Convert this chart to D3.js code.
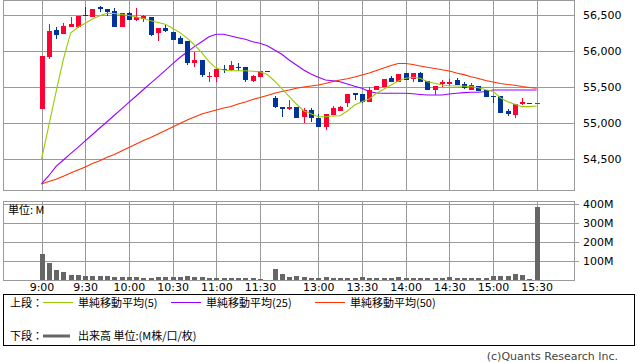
<!DOCTYPE html>
<html><head><meta charset="utf-8">
<script src="https://cdn.jsdelivr.net/npm/d3@7"></script>
<style>
body{margin:0;background:#fff;}
svg{display:block;font-family:"DejaVu Sans","Noto Sans CJK JP",sans-serif;}
</style>
</head><body>
<svg id="chart" width="638" height="362"></svg>
<script>
// ---- data ----
const tickIndex = [0,6,12,18,24,30,38,44,50,56,62,68];
const tickLabels = ["9:00","9:30","10:00","10:30","11:00","11:30","13:00","13:30","14:00","14:30","15:00","15:30"];
const priceTicks = [54500,55000,55500,56000,56500];
const volumeTicks = [100,200,300,400];

const open = [55195,55919,56291,56240,56337,56337,56500,56476,56616,56579,56556,56337,56524,56430,56444,56476,56253,56319,56263,56180,56138,55836,55873,55632,55636,55748,55734,55776,55776,55581,55641,55722,55348,55218,55186,55223,55079,55177,55069,54944,55107,55167,55270,55413,55404,55288,55455,55501,55622,55571,55692,55608,55692,55585,55455,55535,55539,55599,55539,55459,55507,55459,55376,55376,55163,55107,55256,55281,55279];
const high = [55930,56375,56337,56389,56468,56490,56616,56584,56630,56579,56597,56530,56538,56597,56504,56476,56319,56361,56263,56203,56138,55989,55873,55710,55757,55799,55859,55831,55776,55668,55720,55722,55367,55218,55316,55223,55209,55209,55125,55117,55232,55232,55404,55413,55404,55490,55511,55613,55654,55682,55696,55692,55700,55585,55515,55594,55608,55622,55563,55548,55515,55459,55376,55376,55191,55256,55344,55281,55281];
const low = [55195,55891,56170,56240,56337,56315,56482,56476,56538,56490,56337,56337,56430,56420,56407,56212,56138,56267,56156,56100,55804,55780,55632,55562,55567,55688,55724,55716,55571,55567,55641,55720,55200,55083,55177,55069,54996,55014,54944,54898,55107,55167,55223,55316,55280,55288,55455,55490,55567,55571,55594,55571,55571,55455,55386,55501,55515,55529,55469,55459,55445,55358,55270,55130,55097,55069,55242,55279,55279];
const close = [55930,56277,56226,56351,56379,56490,56482,56584,56579,56546,56337,56524,56430,56468,56486,56221,56319,56277,56156,56100,55827,55873,55660,55646,55748,55738,55799,55762,55590,55650,55720,55720,55214,55186,55214,55069,55177,55069,54944,55117,55209,55214,55404,55390,55284,55455,55511,55613,55567,55682,55594,55692,55571,55455,55515,55567,55571,55529,55479,55529,55445,55358,55362,55139,55125,55256,55288,55279,55281];
const volume = [137,91,54,44,26,26,21,21,21,21,16,16,16,16,11,11,16,16,16,16,21,16,16,11,11,11,11,11,11,11,1,0,58,32,16,21,16,11,11,16,11,11,11,11,16,11,11,11,11,16,11,11,11,11,11,11,16,11,11,11,11,11,21,21,21,32,26,1,385];
const sma5 = [54490,54960,55430,55880,56250,56330,56385,56445,56490,56524,56520,56506,56492,56472,56452,56420,56395,56370,56315,56255,56178,56082,55975,55850,55757,55734,55724,55724,55724,55716,55710,55671,55581,55474,55367,55260,55167,55125,55083,55083,55093,55097,55163,55246,55293,55330,55409,55465,55525,55581,55618,55632,55618,55571,55549,55525,55515,55511,55507,55501,55487,55459,55437,55348,55292,55256,55223,55223,55232];
const sma25 = [54146,54261,54390,54480,54568,54657,54746,54835,54926,55013,55103,55193,55283,55372,55462,55550,55639,55729,55819,55908,55985,56059,56128,56198,56231,56231,56207,56184,56162,56128,56106,56073,56013,55953,55874,55804,55734,55678,55632,55595,55585,55571,55539,55507,55479,55434,55413,55409,55409,55409,55409,55402,55393,55386,55386,55386,55400,55409,55418,55423,55423,55434,55455,55455,55455,55455,55455,55455,55455];
const sma50 = [54146,54181,54211,54253,54299,54341,54383,54431,54470,54518,54557,54605,54654,54703,54752,54793,54842,54891,54940,54988,55037,55079,55121,55149,55177,55204,55225,55260,55288,55323,55351,55379,55409,55434,55455,55479,55497,55511,55525,55546,55574,55594,55611,55636,55664,55692,55727,55762,55797,55825,55825,55810,55790,55771,55755,55738,55720,55692,55669,55641,55616,55588,55567,55546,55532,55521,55504,55490,55479];

// ---- layout ----
const svg = d3.select("#chart");
const L = 3, R = 574, PT = 0, PB = 190, VT = 201, VB = 280;
const idx = d3.range(open.length);
const x = d3.scaleLinear().domain([0, 68]).range([41.5, 536.7]);
const yP = d3.scaleLinear().domain([54062, 56709]).range([PB, PT]);
const yV = d3.scaleLinear().domain([0, 416]).range([VB, VT]);
const grid = "#9a9a9a";
const UP = "#ff0033", DOWN = "#003399";

const px = v => Math.round(v) + 0.5;

// price grid
const g = svg.append("g").attr("shape-rendering", "crispEdges");
g.selectAll(".hp").data(priceTicks).join("line")
  .attr("x1", L).attr("x2", R).attr("y1", d => px(yP(d))).attr("y2", d => px(yP(d)))
  .attr("stroke", grid);
g.selectAll(".vp").data(tickIndex).join("line")
  .attr("x1", d => px(x(d))).attr("x2", d => px(x(d))).attr("y1", PT).attr("y2", PB)
  .attr("stroke", grid);
g.append("rect").attr("x", L + 0.5).attr("y", PT + 0.5).attr("width", R - L).attr("height", PB - PT)
  .attr("fill", "none").attr("stroke", grid);

// volume grid
g.selectAll(".hv").data(volumeTicks).join("line")
  .attr("x1", L).attr("x2", R + 5).attr("y1", d => px(yV(d))).attr("y2", d => px(yV(d)))
  .attr("stroke", grid);
g.selectAll(".vv").data(tickIndex).join("line")
  .attr("x1", d => px(x(d))).attr("x2", d => px(x(d))).attr("y1", VT).attr("y2", VB)
  .attr("stroke", grid);
g.append("rect").attr("x", L + 0.5).attr("y", VT + 0.5).attr("width", R - L).attr("height", VB - VT)
  .attr("fill", "none").attr("stroke", grid);

// axes labels
const fmt = d3.format(",");
const ay = svg.append("g").attr("transform", `translate(${R},0)`)
  .call(d3.axisRight(yP).tickValues(priceTicks).tickFormat(fmt).tickSize(0).tickPadding(9));
ay.select(".domain").remove();
const av = svg.append("g").attr("transform", `translate(${R},0)`)
  .call(d3.axisRight(yV).tickValues(volumeTicks).tickFormat(d => d + "M").tickSize(0).tickPadding(9));
av.select(".domain").remove();
const ax = svg.append("g").attr("transform", `translate(0,${VB})`)
  .call(d3.axisBottom(x).tickValues(tickIndex).tickFormat((d, i) => tickLabels[i]).tickSize(0).tickPadding(3));
ax.select(".domain").remove();
svg.selectAll(".tick text").attr("font-size", 11).attr("fill", "#000")
  .attr("font-family", "'DejaVu Sans',sans-serif");

// volume bars
svg.append("g").attr("shape-rendering", "crispEdges")
  .selectAll("rect").data(idx.filter(i => volume[i] > 0)).join("rect")
  .attr("x", i => Math.round(x(i)) - 2).attr("width", 5)
  .attr("y", i => Math.min(Math.round(yV(volume[i])), VB - 1))
  .attr("height", i => VB - Math.min(Math.round(yV(volume[i])), VB - 1))
  .attr("fill", "#666666");

svg.append("text").attr("x", 8).attr("y", 214).attr("font-size", 11)
  .attr("font-family", "'Noto Sans CJK JP',sans-serif").text("単位: M");

// MA lines
const line = arr => d3.line().x(i => x(i)).y(i => yP(arr[i]))(idx);
svg.append("path").attr("d", line(sma50)).attr("fill", "none").attr("stroke", "#ff3300").attr("stroke-width", 1.1);
svg.append("path").attr("d", line(sma25)).attr("fill", "none").attr("stroke", "#9900ff").attr("stroke-width", 1.1);

// candles
const cg = svg.append("g").attr("shape-rendering", "crispEdges");
const col = i => close[i] >= open[i] ? UP : DOWN;
cg.selectAll("line").data(idx).join("line")
  .attr("x1", i => px(x(i))).attr("x2", i => px(x(i)))
  .attr("y1", i => yP(high[i])).attr("y2", i => yP(low[i]))
  .attr("stroke", col);
cg.selectAll("rect").data(idx).join("rect")
  .attr("x", i => Math.round(x(i)) - 2).attr("width", 5)
  .attr("y", i => yP(Math.max(open[i], close[i])))
  .attr("height", i => Math.max(1, Math.abs(yP(open[i]) - yP(close[i]))))
  .attr("fill", col);

svg.append("path").attr("d", line(sma5)).attr("fill", "none").attr("stroke", "#99cc00").attr("stroke-width", 1.1);

// legend
const lg = svg.append("g").attr("font-size", 11).attr("font-family", "'Noto Sans CJK JP',sans-serif");
lg.append("rect").attr("x", 3.5).attr("y", 294.5).attr("width", 631).attr("height", 51)
  .attr("fill", "none").attr("stroke", "#000").attr("shape-rendering", "crispEdges");
const legendItems = [
  {label: "単純移動平均(5)", color: "#99cc00", x0: 43},
  {label: "単純移動平均(25)", color: "#9900ff", x0: 171},
  {label: "単純移動平均(50)", color: "#ff3300", x0: 315}
];
lg.append("text").attr("x", 10).attr("y", 307).text("上段：");
legendItems.forEach(d => {
  lg.append("line").attr("x1", d.x0).attr("x2", d.x0 + 30).attr("y1", 302.5).attr("y2", 302.5)
    .attr("stroke", d.color).attr("shape-rendering", "crispEdges");
  lg.append("text").attr("x", d.x0 + 35).attr("y", 307).text(d.label);
});
lg.append("text").attr("x", 10).attr("y", 340).text("下段：");
lg.append("line").attr("x1", 43).attr("x2", 70).attr("y1", 336).attr("y2", 336)
  .attr("stroke", "#666").attr("stroke-width", 3);
lg.append("text").attr("x", 78).attr("y", 340).text("出来高 単位:(M株/口/枚)");

svg.append("text").attr("x", 618).attr("y", 360).attr("text-anchor", "end")
  .attr("font-size", 11).attr("fill", "#444").text("(c)Quants Research Inc.");
</script>
</body></html>
